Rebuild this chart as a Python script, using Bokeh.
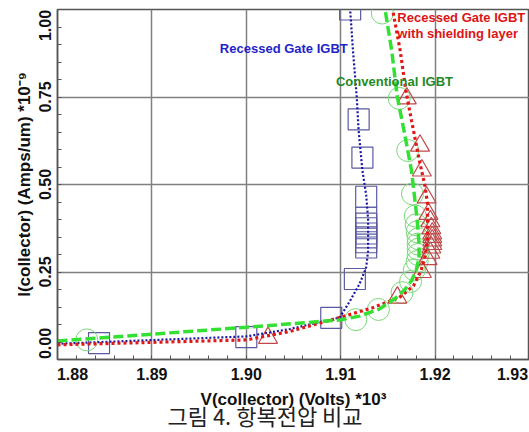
from bokeh.plotting import figure
from bokeh.models import Range1d, FixedTicker, Label, Title, CustomJSTickFormatter
from bokeh.embed import file_html
from bokeh.resources import INLINE

# ---------------- data (V in kV, I in 1e-9 A/um) ----------------
# Recessed Gate IGBT (blue)
rg_line_v = [1.8800, 1.9000, 1.9046, 1.9099, 1.9110, 1.9120, 1.9127, 1.9129, 1.9129, 1.9127, 1.9123, 1.9119, 1.9117, 1.9113, 1.9110]
rg_line_i = [0.045, 0.066, 0.087, 0.120, 0.168, 0.216, 0.263, 0.310, 0.400, 0.470, 0.540, 0.654, 0.750, 0.883, 1.000]
rg_mark_v = [1.8844, 1.9000, 1.9090, 1.9115, 1.9127, 1.9127, 1.9127, 1.9127, 1.9127, 1.9127, 1.9127, 1.9127, 1.9123, 1.9119, 1.9110]
rg_mark_i = [0.047, 0.064, 0.119, 0.230, 0.320, 0.335, 0.349, 0.360, 0.375, 0.388, 0.405, 0.465, 0.577, 0.686, 1.000]

# Conventional IGBT (green)
cv_line_v = [1.8800, 1.9000, 1.9099, 1.9120, 1.9141, 1.9158, 1.9168, 1.9175, 1.9180, 1.9183, 1.9183, 1.9181, 1.9178, 1.9175, 1.9167, 1.9160, 1.9154, 1.9147]
cv_line_i = [0.053, 0.092, 0.113, 0.124, 0.144, 0.175, 0.200, 0.225, 0.255, 0.290, 0.330, 0.400, 0.470, 0.540, 0.655, 0.750, 0.883, 1.000]
cv_mark_v = [1.8831, 1.9116, 1.9140, 1.9165, 1.9174, 1.9178, 1.9181, 1.9182, 1.9182, 1.9182, 1.9182, 1.9181, 1.9180, 1.9179, 1.9176, 1.9171, 1.9162, 1.9144]
cv_mark_i = [0.056, 0.114, 0.143, 0.191, 0.223, 0.256, 0.280, 0.300, 0.315, 0.330, 0.345, 0.365, 0.385, 0.410, 0.473, 0.597, 0.746, 0.990]

# Recessed Gate IGBT with shielding layer (red)
sh_line_v = [1.8800, 1.9000, 1.9046, 1.9099, 1.9134, 1.9162, 1.9177, 1.9185, 1.9190, 1.9192, 1.9192, 1.9189, 1.9184, 1.9175, 1.9169, 1.9163, 1.9155]
sh_line_i = [0.042, 0.056, 0.080, 0.120, 0.148, 0.177, 0.210, 0.253, 0.300, 0.350, 0.445, 0.500, 0.560, 0.683, 0.769, 0.883, 1.000]
sh_mark_v = [1.9023, 1.9160, 1.9186, 1.9192, 1.9195, 1.9196, 1.9197, 1.9197, 1.9197, 1.9197, 1.9196, 1.9195, 1.9193, 1.9191, 1.9186, 1.9184, 1.9170]
sh_mark_i = [0.062, 0.177, 0.250, 0.287, 0.305, 0.320, 0.330, 0.340, 0.350, 0.360, 0.375, 0.395, 0.416, 0.463, 0.540, 0.611, 0.746]

x_ticks = [1.88, 1.89, 1.90, 1.91, 1.92, 1.93]
x_tick_labels = ["1.88", "1.89", "1.90", "1.91", "1.92", "1.93"]
y_ticks = [0.0, 0.25, 0.5, 0.75, 1.0]
y_tick_labels = ["0.00", "0.25", "0.50", "0.75", "1.00"]

x_title = "V(collector) (Volts) *10\u00b3"
y_title = "I(collector) (Amps/um) *10\u207b\u2079"
caption = "그림 4. 항복전압 비교"
name_rg = "Recessed Gate IGBT"
name_cv = "Conventional IGBT"
name_sh1 = "Recessed Gate IGBT"
name_sh2 = "with shielding layer"

# ---------------- figure ----------------
FONT = "Liberation Sans"
W, H = 529, 432
BL, BR, BT, BB = 57, 0, 9, 73
X0, X1 = 1.88, 1.93
Y0, Y1 = 0.0, 1.0
p = figure(width=W, height=H, x_range=Range1d(X0, X1), y_range=Range1d(Y0, Y1),
           output_backend="svg", toolbar_location=None,
           min_border_left=BL, min_border_right=BR, min_border_top=BT, min_border_bottom=BB)
p.background_fill_color = "white"
p.border_fill_color = "white"
p.outline_line_color = "#555555"
p.outline_line_width = 1.5

# edge tick labels are drawn inset (like the original plotting tool)
xpx = (X1 - X0) / (W - BL - BR)
ypx = (Y1 - Y0) / (H - BT - BB)
x_label_pos = list(x_ticks)
x_label_pos[0] += 15 * xpx
x_label_pos[-1] -= 17 * xpx
y_label_pos = list(y_ticks)
y_label_pos[0] += 16 * ypx
y_label_pos[-1] -= 16 * ypx

fmt_code = """
let best = 0;
for (let i = 0; i < pos.length; i++) {
  if (Math.abs(pos[i] - tick) < Math.abs(pos[best] - tick)) { best = i; }
}
return lab[best];
"""

x_minor = [round(X0 + 0.002 * k, 4) for k in range(26)]
y_minor = [round(0.05 * k, 3) for k in range(21)]
p.xaxis.ticker = FixedTicker(ticks=x_label_pos, minor_ticks=x_minor)
p.yaxis.ticker = FixedTicker(ticks=y_label_pos, minor_ticks=y_minor)
p.xaxis.formatter = CustomJSTickFormatter(args=dict(pos=x_label_pos, lab=x_tick_labels), code=fmt_code)
p.yaxis.formatter = CustomJSTickFormatter(args=dict(pos=y_label_pos, lab=y_tick_labels), code=fmt_code)
for ax in (p.xaxis, p.yaxis):
    ax.major_tick_in = 0
    ax.major_tick_out = 0
    ax.minor_tick_in = 4
    ax.minor_tick_out = 0
    ax.axis_line_color = "#555555"
    ax.axis_line_width = 1.5
    ax.minor_tick_line_color = "#555555"
    ax.major_label_text_font = FONT
    ax.major_label_text_font_style = "bold"
    ax.major_label_text_color = "#111111"
    ax.major_label_text_font_size = "16px"
    ax.axis_label_text_font = FONT
    ax.axis_label_text_font_style = "bold"
    ax.axis_label_text_font_size = "17px"
    ax.axis_label_text_color = "#111111"
p.yaxis.major_label_orientation = "vertical"
p.xaxis.major_label_standoff = 8
p.yaxis.major_label_standoff = 7
p.xaxis.axis_label = x_title
p.yaxis.axis_label = y_title
p.xaxis.axis_label_standoff = 7
p.yaxis.axis_label_standoff = 2

p.xgrid.ticker = FixedTicker(ticks=x_ticks[1:-1])
p.ygrid.ticker = FixedTicker(ticks=y_ticks[1:-1])
for g in (p.xgrid, p.ygrid):
    g.grid_line_color = "#808080"
    g.grid_line_width = 1.5

p.add_layout(Title(text=caption, align="left", offset=110, standoff=-30,
                   text_font="Noto Sans CJK KR", text_font_size="22px",
                   text_font_style="normal", text_color="#222222"), "below")

# markers
p.scatter(rg_mark_v, rg_mark_i, marker="square", size=21, fill_color=None,
          line_color="#5a5aa2", line_width=1.2)
p.scatter(cv_mark_v, cv_mark_i, marker="circle", size=22, fill_color=None,
          line_color="#7ad87a", line_width=1.0)
p.scatter(sh_mark_v, sh_mark_i, marker="triangle", size=19, fill_color=None,
          line_color="#c04848", line_width=1.2)

# lines
p.line(rg_line_v, rg_line_i, line_color="#1a1aa0", line_width=2.2, line_dash="2 2")
p.line(sh_line_v, sh_line_i, line_color="#e01818", line_width=3.2, line_dash="3 3")
p.line(cv_line_v, cv_line_i, line_color="#33e033", line_width=3.5, line_dash="10 4")

# curve names
def name_label(x, y, text, color):
    p.add_layout(Label(x=x, y=y, text=text, text_align="left", text_baseline="middle",
                       text_font=FONT, text_font_style="bold", text_font_size="13px",
                       text_color=color))

name_label(1.8972, 0.889, name_rg, "#2424c8")
name_label(1.9095, 0.795, name_cv, "#1f8a1f")
name_label(1.9160, 0.978, name_sh1, "#dd1414")
name_label(1.9160, 0.932, name_sh2, "#dd1414")

open("out.html", "w").write(file_html(p, INLINE))
